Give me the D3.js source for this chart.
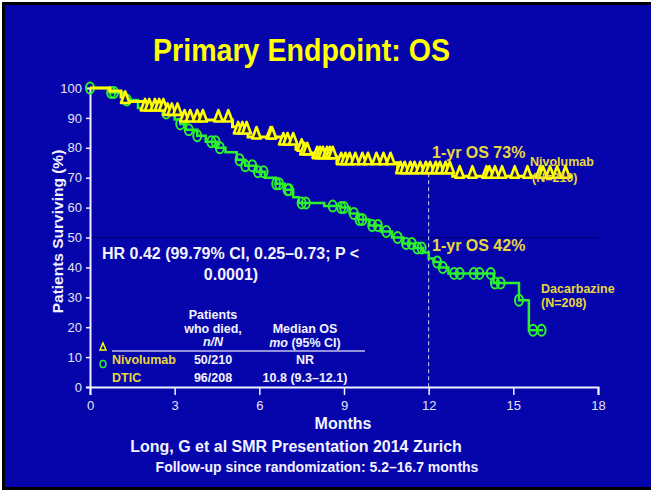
<!DOCTYPE html>
<html>
<head>
<meta charset="utf-8">
<script src="https://cdn.jsdelivr.net/npm/d3@7"></script>
<style>
  body { margin: 0; background: #fff; }
  svg { display: block; font-family: "Liberation Sans", Arial, sans-serif; }
</style>
</head>
<body>
<div class="container"></div>
<script>
// tick values
const monthTicks = [0, 3, 6, 9, 12, 15, 18];
const survTicks = [0, 10, 20, 30, 40, 50, 60, 70, 80, 90, 100];

// Nivolumab KM steps (months, % surviving) and censor times
const nivoTimes = [0, 0.7, 1.1, 1.25, 1.9, 2.7, 3.3, 5.05, 5.2, 5.6, 6.8, 7.3, 7.55, 7.9, 8.75, 10.9, 12.85, 17.1];
const nivoSurv = [100, 99, 97, 95.5, 93, 91.5, 89.3, 87, 85.3, 83.6, 81.6, 79.5, 78.3, 77, 75, 72, 70.5, 70.5];
const nivoCensor = [1.25, 1.95, 2.1, 2.3, 2.45, 2.6, 2.75, 2.9, 3.1, 3.35, 3.55, 3.8, 4.0, 4.55, 4.9,
    5.25, 5.4, 5.55, 5.9, 6.4, 6.45, 6.85, 7.0, 7.2, 7.5, 7.6, 7.7, 8.05, 8.15, 8.25, 8.4, 8.5, 8.6,
    8.9, 9.05, 9.2, 9.4, 9.65, 9.85, 10.15, 10.4, 10.65, 11.0, 11.15, 11.35, 11.5, 11.7, 11.9, 12.05,
    12.25, 12.4, 12.6, 12.75, 13.1, 13.55, 14.05, 14.15, 14.35, 14.6, 15.05, 15.5, 15.95, 16.05, 16.3,
    16.55, 16.85];

// DTIC KM steps and censor times
const dticTimes = [0, 0.7, 1.2, 1.7, 2.6, 3.0, 3.2, 3.4, 3.8, 4.1, 4.5, 4.8, 5.2, 5.5, 5.9, 6.2, 6.6, 6.9,
    7.2, 7.4, 8.3, 8.9, 9.2, 9.5, 9.9, 10.3, 10.7, 11.1, 11.5, 11.8, 12.0, 12.2, 12.4, 12.7, 14.3, 15.2, 15.55, 16.05];
const dticSurv = [100, 98.5, 96, 93.3, 91.6, 89.5, 88, 86, 84, 82, 80, 78.5, 76, 74, 72, 70, 68, 66,
    63.5, 61.5, 60.5, 60, 58, 56, 54, 52, 50, 48, 46.5, 45, 43, 41.8, 40, 38, 34.8, 29, 19, 19];
const dticCensor = [0, 0.75, 0.85, 1.3, 2.7, 3.2, 3.5, 3.8, 4.3, 4.45, 4.6, 5.3, 5.5, 5.75, 5.95, 6.15,
    6.6, 6.7, 7.0, 7.05, 7.5, 7.65, 8.6, 8.9, 9.0, 9.35, 9.55, 9.65, 10.0, 10.2, 10.5, 10.9, 11.2, 11.4,
    11.6, 11.75, 12.3, 12.5, 12.9, 13.1, 13.6, 13.8, 14.2, 14.35, 14.55, 15.2, 15.7, 16.0];

// table
const tableHead1 = ['Patients', 'who died,', 'n/N'];
const tableHead2 = ['Median OS', 'mo (95% CI)'];
const tableRows = [
    {arm: 'Nivolumab', died: '50/210', median: 'NR'},
    {arm: 'DTIC', died: '96/208', median: '10.8 (9.3–12.1)'}
];

let width = 651;
let height = 490;
const blue = '#0505ab';
const gold = '#e8d640';
const yellow = '#ffff00';
const green = '#2df02d';
const white = '#f2f2ff';

const svg = d3.select('.container')
    .append('svg')
    .attr('width', width)
    .attr('height', height);

// slide frame
svg.append('rect').attr('x', 2).attr('y', 2).attr('width', width - 2).attr('height', height - 2).attr('fill', '#000');
svg.append('rect').attr('x', 5).attr('y', 5).attr('width', width - 5).attr('height', height - 8).attr('fill', blue);

// title, squeezed to the narrow look of the slide
svg.append('text')
    .attr('x', 153).attr('y', 61)
    .attr('textLength', 297)
    .attr('lengthAdjust', 'spacingAndGlyphs')
    .attr('fill', yellow)
    .style('font-weight', 'bold')
    .style('font-size', '31px')
    .text('Primary Endpoint: OS');

let x = d3.scaleLinear().domain([0, 18]).range([90, 598]);
let y = d3.scaleLinear().domain([0, 100]).range([387, 88]);

// faint line at 50%
svg.append('line')
    .attr('x1', x(0)).attr('x2', x(18))
    .attr('y1', y(50)).attr('y2', y(50))
    .attr('stroke', '#00006a').attr('stroke-width', 1);

// axes
let xAxis = svg.append('g')
    .attr('transform', 'translate(0,' + y(0) + ')')
    .call(d3.axisBottom(x).tickValues(monthTicks).tickSize(8).tickPadding(6));
let yAxis = svg.append('g')
    .attr('transform', 'translate(' + x(0) + ',0)')
    .call(d3.axisLeft(y).tickValues(survTicks).tickSize(4).tickPadding(4));

[xAxis, yAxis].forEach(a => {
    a.select('.domain').attr('stroke', white).attr('stroke-width', 2);
    a.selectAll('.tick line').attr('stroke', white).attr('stroke-width', 1.5);
    a.selectAll('.tick text')
        .attr('fill', '#e4e4f4')
        .style('font-size', '13px')
        .style('font-family', '"Liberation Sans", Arial, sans-serif');
});

svg.append('text')
    .attr('transform', 'translate(63,' + (y(50) - 6) + ') rotate(-90)')
    .attr('text-anchor', 'middle')
    .attr('fill', white)
    .style('font-weight', 'bold').style('font-size', '15.5px')
    .text('Patients Surviving (%)');

svg.append('text')
    .attr('x', 343).attr('y', 429)
    .attr('text-anchor', 'middle')
    .attr('fill', white)
    .style('font-weight', 'bold').style('font-size', '16px')
    .text('Months');

svg.append('text')
    .attr('x', 296).attr('y', 452)
    .attr('text-anchor', 'middle')
    .attr('fill', white)
    .style('font-weight', 'bold').style('font-size', '16px')
    .text('Long, G et al SMR Presentation 2014 Zurich');

svg.append('text')
    .attr('x', 317).attr('y', 472)
    .attr('text-anchor', 'middle')
    .attr('fill', white)
    .style('font-weight', 'bold').style('font-size', '14px')
    .text('Follow-up since randomization: 5.2–16.7 months');

// dashed 12 month marker
svg.append('line')
    .attr('x1', x(12)).attr('x2', x(12))
    .attr('y1', y(71.5)).attr('y2', y(0))
    .attr('stroke', '#d8d8e8').attr('stroke-width', 1)
    .attr('stroke-dasharray', '4,3');

function survAt(times, surv, t) {
    let i = d3.bisectRight(times, t) - 1;
    return surv[Math.max(0, i)];
}

let step = d3.line()
    .x(d => x(d[0]))
    .y(d => y(d[1]))
    .curve(d3.curveStepAfter);

// DTIC curve
svg.append('path')
    .datum(d3.zip(dticTimes, dticSurv))
    .attr('d', step)
    .attr('fill', 'none').attr('stroke', green).attr('stroke-width', 2.5);

svg.append('g').selectAll('ellipse')
    .data(dticCensor)
    .enter()
    .append('ellipse')
    .attr('cx', d => x(d))
    .attr('cy', d => y(survAt(dticTimes, dticSurv, d)))
    .attr('rx', 4).attr('ry', 5.5)
    .attr('fill', 'none').attr('stroke', green).attr('stroke-width', 2);

// Nivolumab curve
svg.append('path')
    .datum(d3.zip(nivoTimes, nivoSurv))
    .attr('d', step)
    .attr('fill', 'none').attr('stroke', yellow).attr('stroke-width', 3);

const tri = 'M0,-9L4.3,2.5L-4.3,2.5Z';
svg.append('g').selectAll('path')
    .data(nivoCensor)
    .enter()
    .append('path')
    .attr('d', tri)
    .attr('transform', d => 'translate(' + x(d) + ',' + (y(survAt(nivoTimes, nivoSurv, d)) - 1) + ')')
    .attr('fill', '#202050').attr('stroke', yellow).attr('stroke-width', 2.6)
    .attr('stroke-linejoin', 'round');

// curve labels
function label(txt, lx, ly, size) {
    svg.append('text')
        .attr('x', lx).attr('y', ly)
        .attr('fill', gold)
        .style('font-weight', 'bold').style('font-size', size + 'px')
        .text(txt);
}
label('1-yr OS 73%', 432, 158, 16);
label('Nivolumab', 530, 166, 12.5);
label('(N=210)', 532, 182, 12.5);
label('1-yr OS 42%', 432, 251, 16);
label('Dacarbazine', 541, 293, 12.5);
label('(N=208)', 541, 307, 12.5);

// HR text
svg.append('text')
    .attr('x', 102).attr('y', 259)
    .attr('fill', white)
    .style('font-weight', 'bold').style('font-size', '16px')
    .text('HR 0.42 (99.79% CI, 0.25–0.73; P <');
svg.append('text')
    .attr('x', 231).attr('y', 280)
    .attr('text-anchor', 'middle')
    .attr('fill', white)
    .style('font-weight', 'bold').style('font-size', '16px')
    .text('0.0001)');

// table
let tbl = svg.append('g').style('font-weight', 'bold').style('font-size', '12.5px');
tbl.selectAll('.h1')
    .data(tableHead1)
    .enter()
    .append('text')
    .attr('x', 213)
    .attr('y', (d, i) => 319 + i * 13.5)
    .attr('text-anchor', 'middle')
    .attr('fill', white)
    .style('font-style', (d, i) => i === 2 ? 'italic' : 'normal')
    .text(d => d);

let h2 = tbl.selectAll('.h2')
    .data(tableHead2)
    .enter()
    .append('text')
    .attr('x', 305)
    .attr('y', (d, i) => 333 + i * 13.5)
    .attr('text-anchor', 'middle')
    .attr('fill', white);
h2.filter((d, i) => i === 0).text(d => d);
h2.filter((d, i) => i === 1).each(function () {
    d3.select(this).append('tspan').style('font-style', 'italic').text('mo');
    d3.select(this).append('tspan').text(' (95% CI)');
});

tbl.append('line')
    .attr('x1', 112).attr('x2', 365)
    .attr('y1', 351).attr('y2', 351)
    .attr('stroke', '#c0c0ec').attr('stroke-width', 1.5);

tableRows.forEach((r, i) => {
    let ry = 364 + i * 18;
    tbl.append('text').attr('x', 112).attr('y', ry).attr('fill', gold).text(r.arm);
    tbl.append('text').attr('x', 213).attr('y', ry).attr('text-anchor', 'middle').attr('fill', white).text(r.died);
    tbl.append('text').attr('x', 305).attr('y', ry).attr('text-anchor', 'middle').attr('fill', white).text(r.median);
});

// legend symbols
svg.append('path')
    .attr('d', 'M0,-4L3,3L-3,3Z')
    .attr('transform', 'translate(103,347)')
    .attr('fill', 'none').attr('stroke', yellow).attr('stroke-width', 1.5);
svg.append('ellipse')
    .attr('cx', 103).attr('cy', 364)
    .attr('rx', 3).attr('ry', 3.5)
    .attr('fill', 'none').attr('stroke', green).attr('stroke-width', 1.5);
</script>
</body>
</html>
